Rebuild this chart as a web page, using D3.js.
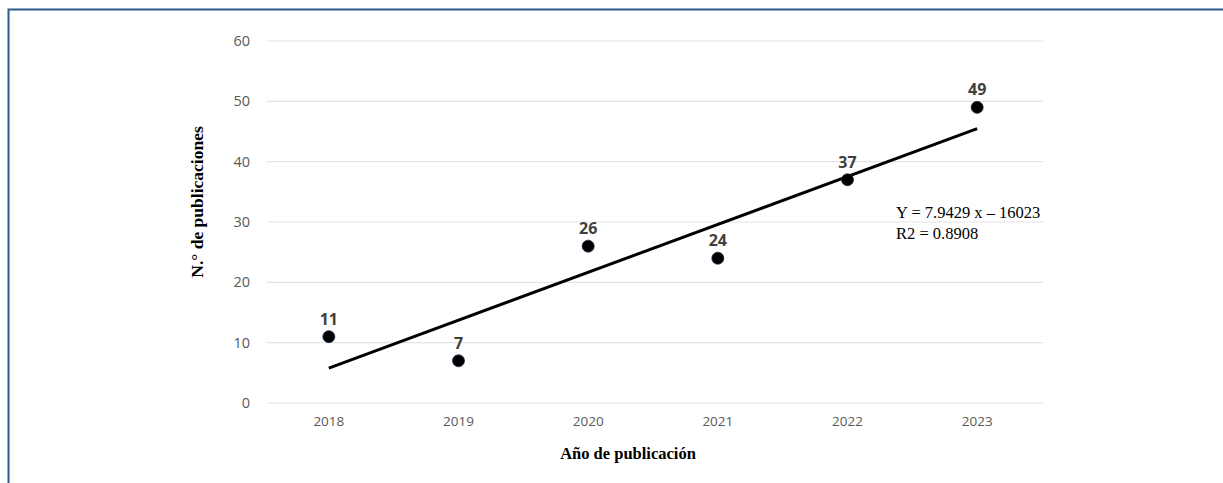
<!DOCTYPE html>
<html>
<head>
<meta charset="utf-8">
<script src="https://cdn.jsdelivr.net/npm/d3@7"></script>
<style>
  html, body { margin: 0; padding: 0; background: #fff; }
  svg { display: block; }
</style>
</head>
<body>
<svg id="chart" width="1223" height="483"></svg>
<script>
// Publications per year
const years = ["2018", "2019", "2020", "2021", "2022", "2023"];
const publications = [11, 7, 26, 24, 37, 49];
const yTicks = [0, 10, 20, 30, 40, 50, 60];

// Linear trend: Y = slope * year + intercept
const trendSlope = 7.9429;
const trendIntercept = -16023;
const trendR2 = 0.8908;

const svg = d3.select("#chart");

// Frame around the figure
svg.append("rect")
  .attr("x", 8.5).attr("y", 9.5)
  .attr("width", 1240).attr("height", 500)
  .attr("fill", "none")
  .attr("stroke", "#2b5b8c")
  .attr("stroke-width", 2);

const plot = { left: 264, right: 1042, top: 41, bottom: 403 };

const x = d3.scaleBand()
  .domain(years)
  .range([plot.left, plot.right]);

const y = d3.scaleLinear()
  .domain([0, 60])
  .range([plot.bottom, plot.top]);

// Horizontal gridlines
svg.append("g")
  .selectAll("line")
  .data(yTicks)
  .join("line")
  .attr("x1", plot.left + 3)
  .attr("x2", plot.right + 1)
  .attr("y1", d => y(d))
  .attr("y2", d => y(d))
  .attr("stroke", "#e3e3e3")
  .attr("stroke-width", 1.2);

// Y axis labels
const yAxis = d3.axisLeft(y).tickValues(yTicks).tickSize(0).tickPadding(0);
svg.append("g")
  .attr("transform", `translate(${plot.left - 14},0)`)
  .call(yAxis)
  .call(g => g.select(".domain").remove())
  .call(g => g.selectAll("text")
    .attr("fill", "#595959")
    .attr("font-family", "'Open Sans', sans-serif")
    .attr("font-size", 14.5));

// X axis labels
const xAxis = d3.axisBottom(x).tickSize(0).tickPadding(0);
svg.append("g")
  .attr("transform", `translate(0,${plot.bottom + 13})`)
  .call(xAxis)
  .call(g => g.select(".domain").remove())
  .call(g => g.selectAll("text")
    .attr("fill", "#595959")
    .attr("font-family", "'Open Sans', sans-serif")
    .attr("font-size", 13.5));

const cx = d => x(d) + x.bandwidth() / 2;

// Trend line across the year range
const trendYears = [years[0], years[years.length - 1]];
svg.append("line")
  .attr("x1", cx(trendYears[0]))
  .attr("y1", y(trendSlope * +trendYears[0] + trendIntercept))
  .attr("x2", cx(trendYears[1]))
  .attr("y2", y(trendSlope * +trendYears[1] + trendIntercept))
  .attr("stroke", "#000")
  .attr("stroke-width", 3)
  .attr("stroke-linecap", "butt");

// Data points
const points = years.map((yr, i) => ({ year: yr, value: publications[i] }));
svg.append("g")
  .selectAll("circle")
  .data(points)
  .join("circle")
  .attr("cx", d => cx(d.year))
  .attr("cy", d => y(d.value))
  .attr("r", 6)
  .attr("fill", "#000")
  .attr("stroke", "#1c2a4a")
  .attr("stroke-width", 0.8);

// Value labels
svg.append("g")
  .selectAll("text")
  .data(points)
  .join("text")
  .attr("x", d => cx(d.year))
  .attr("y", d => y(d.value) - 12)
  .attr("text-anchor", "middle")
  .attr("fill", "#404040")
  .attr("font-family", "'Open Sans', sans-serif")
  .attr("font-weight", "bold")
  .attr("font-size", 16)
  .text(d => d.value);

// Trend equation
const eq = svg.append("text")
  .attr("font-family", "'Liberation Serif', 'Times New Roman', serif")
  .attr("font-size", 16.5)
  .attr("fill", "#000");
eq.append("tspan").attr("x", 896).attr("y", 218)
  .text(`Y = ${trendSlope} x \u2013 ${Math.abs(trendIntercept)}`);
eq.append("tspan").attr("x", 896).attr("y", 238.5)
  .text(`R2 = ${trendR2}`);

// Axis titles
svg.append("text")
  .attr("transform", "translate(203,202) rotate(-90)")
  .attr("text-anchor", "middle")
  .attr("font-family", "'Liberation Serif', 'Times New Roman', serif")
  .attr("font-weight", "bold")
  .attr("font-size", 17.5)
  .attr("fill", "#000")
  .text("N.° de publicaciones");

svg.append("text")
  .attr("x", 628)
  .attr("y", 459)
  .attr("text-anchor", "middle")
  .attr("font-family", "'Liberation Serif', 'Times New Roman', serif")
  .attr("font-weight", "bold")
  .attr("font-size", 16.5)
  .attr("fill", "#000")
  .text("Año de publicación");
</script>
</body>
</html>
